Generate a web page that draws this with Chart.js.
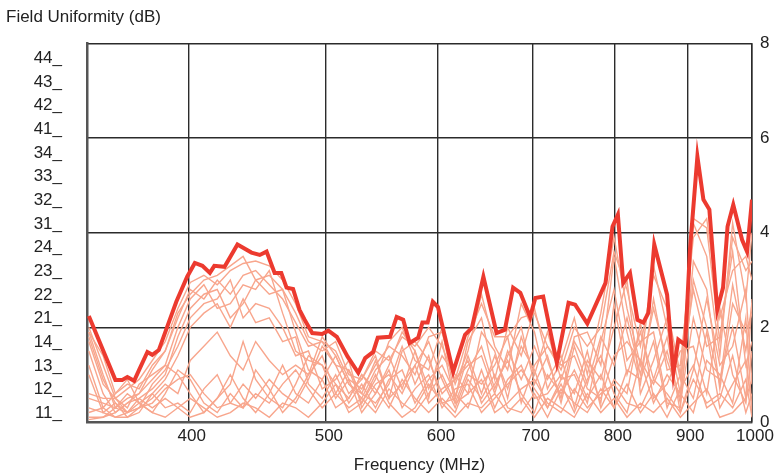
<!DOCTYPE html>
<html>
<head>
<meta charset="utf-8">
<title>Field Uniformity</title>
<script src="https://cdn.jsdelivr.net/npm/chart.js@4.4.1/dist/chart.umd.min.js"></script>
<style>
  html, body { margin: 0; padding: 0; background: #fff; }
  #chart { display: block; }
</style>
</head>
<body>
<canvas id="chart" width="781" height="476"></canvas>
<script>
// axis labels
const freqTicks = [400, 500, 600, 700, 800, 900, 1000];
const leftLabels = ['44_', '43_', '42_', '41_', '34_', '33_', '32_', '31_',
                    '24_', '23_', '22_', '21_', '14_', '13_', '12_', '11_'];

// worst case (thick red) curve
const maxFreq = [340, 355, 359, 362, 366, 369, 374, 377, 381, 386,
                 392, 399, 404, 409, 414, 417, 424, 433, 443, 449,
                 454, 460, 465, 469, 474, 479, 483, 489, 497, 502,
                 509, 518, 527, 533, 540, 544, 555, 561, 567, 573,
                 581, 585, 590, 595, 600, 615, 627, 634, 646, 660,
                 669, 678, 686, 697, 703, 712, 728, 742, 750, 765,
                 788, 797, 804, 811, 820, 830, 838, 845, 853, 871,
                 880, 887, 897, 904, 915, 924, 933, 945, 954, 961,
                 970, 984, 992, 1000];
const maxValues = [2.24, 0.89, 0.89, 0.95, 0.87, 1.10, 1.48, 1.42, 1.52, 1.99,
                   2.54, 3.07, 3.36, 3.30, 3.15, 3.30, 3.28, 3.75, 3.58, 3.53,
                   3.60, 3.15, 3.15, 2.84, 2.81, 2.37, 2.16, 1.88, 1.86, 1.93,
                   1.80, 1.38, 1.04, 1.35, 1.48, 1.78, 1.80, 2.22, 2.16, 1.67,
                   1.78, 2.10, 2.10, 2.54, 2.43, 1.06, 1.84, 1.99, 3.07, 1.88,
                   1.95, 2.84, 2.73, 2.22, 2.62, 2.65, 1.25, 2.52, 2.48, 2.08,
                   2.94, 4.13, 4.38, 2.94, 3.15, 2.16, 2.10, 2.31, 3.75, 2.69,
                   1.04, 1.74, 1.63, 3.64, 5.61, 4.70, 4.49, 2.37, 2.84, 4.13,
                   4.59, 3.85, 3.60, 4.70];

// single sweeps, all on one frequency grid
const sweepFreq = [340, 348, 355, 362, 369, 377, 385, 393, 401, 410,
                   419, 428, 437, 446, 456, 466, 476, 486, 497, 508,
                   519, 530, 542, 554, 566, 578, 591, 604, 617, 630,
                   644, 658, 672, 687, 702, 717, 733, 749, 765, 782,
                   799, 816, 834, 852, 871, 890, 909, 929, 949, 969,
                   990, 1000];
const sweep1 = [2.0, 1.2, 0.5, 0.7, 0.9, 1.3, 1.7, 2.4, 2.95, 3.1, 2.9, 3.2, 3.35, 3.4, 3.3, 3.0, 2.5, 1.8, 1.7, 1.5,
                0.9, 0.7, 1.2, 1.6, 1.4, 1.0, 1.8, 1.9, 0.8, 1.5, 2.7, 1.6, 1.1, 2.5, 1.9, 0.7, 1.3, 2.2, 1.0, 2.3,
                3.9, 2.4, 1.2, 3.3, 2.0, 0.6, 4.2, 3.5, 1.4, 4.2, 2.6, 4.0];
const sweep2 = [1.9, 1.0, 0.3, 0.5, 0.6, 1.1, 1.5, 2.2, 2.8, 2.6, 3.0, 2.7, 3.1, 3.2, 2.9, 2.6, 2.1, 1.6, 1.7, 1.2,
                1.1, 0.4, 0.9, 1.7, 2.0, 1.3, 1.1, 2.0, 0.5, 1.7, 2.2, 0.9, 2.0, 1.4, 2.4, 1.3, 0.5, 1.8, 1.9, 1.2,
                3.5, 1.9, 0.8, 2.6, 1.1, 1.2, 3.9, 4.3, 2.2, 3.2, 3.5, 3.0];
const sweep3 = [1.7, 0.8, 0.5, 0.3, 0.8, 1.0, 1.2, 2.0, 2.6, 2.9, 2.4, 2.5, 2.9, 2.8, 3.2, 2.3, 1.5, 1.3, 1.2, 0.8,
                0.5, 1.0, 0.6, 1.2, 1.9, 1.5, 0.7, 1.4, 1.0, 0.6, 1.9, 1.5, 0.5, 1.8, 1.0, 1.9, 0.9, 1.0, 0.4, 1.7,
                2.8, 1.3, 1.7, 1.9, 0.4, 0.3, 3.4, 2.8, 0.7, 2.5, 1.9, 2.3];
const sweep4 = [1.5, 0.6, 0.2, 0.4, 0.5, 0.7, 1.0, 1.8, 2.4, 2.7, 2.8, 2.2, 2.5, 3.0, 2.7, 2.8, 1.9, 1.1, 0.9, 1.4,
                0.8, 0.6, 1.3, 0.5, 1.5, 1.7, 1.3, 0.6, 0.9, 1.2, 1.4, 0.6, 1.5, 0.9, 1.6, 0.9, 1.4, 0.3, 1.3, 0.9,
                2.0, 3.0, 0.6, 1.3, 2.2, 0.9, 2.8, 1.6, 1.8, 3.6, 1.2, 1.7];
const sweep5 = [1.8, 0.9, 0.4, 0.2, 0.3, 0.8, 1.1, 1.6, 2.2, 2.5, 2.6, 3.0, 2.2, 2.5, 2.4, 2.0, 1.4, 1.5, 0.7, 0.9,
                1.3, 0.3, 0.8, 1.0, 0.6, 1.2, 1.7, 0.9, 0.3, 1.0, 0.8, 1.2, 1.8, 0.4, 1.2, 1.6, 1.2, 1.4, 0.7, 0.5,
                1.4, 1.7, 1.3, 0.8, 1.5, 0.4, 2.2, 1.1, 0.9, 2.0, 0.5, 2.6];
const sweep6 = [1.2, 0.3, 0.6, 0.9, 0.4, 0.6, 0.9, 1.4, 2.0, 2.3, 2.5, 2.0, 2.6, 2.1, 2.2, 1.7, 1.8, 0.8, 0.5, 1.0,
                0.4, 0.8, 0.3, 0.9, 1.1, 0.4, 0.9, 1.2, 0.6, 0.3, 1.1, 0.3, 0.9, 1.2, 0.5, 0.6, 1.0, 0.6, 1.5, 0.3,
                0.9, 0.6, 2.1, 0.5, 0.8, 1.5, 1.6, 0.6, 2.4, 1.0, 0.4, 1.5];
const sweep7 = [0.6, 0.5, 0.5, 0.2, 0.3, 0.4, 0.7, 0.9, 1.0, 0.6, 0.3, 0.4, 0.8, 0.5, 0.9, 0.6, 0.4, 0.9, 1.6, 1.2,
                0.6, 0.9, 1.4, 0.5, 0.8, 1.2, 0.4, 0.7, 0.9, 1.3, 0.4, 0.8, 1.3, 0.6, 0.2, 1.0, 0.6, 1.1, 0.5, 1.0,
                0.3, 1.1, 0.9, 1.7, 0.3, 1.0, 0.5, 1.9, 0.3, 0.8, 1.3, 0.3];
const sweep8 = [0.1, 0.1, 0.2, 0.4, 0.6, 0.9, 1.2, 1.0, 0.6, 0.2, 0.5, 0.8, 1.7, 0.9, 0.5, 0.3, 0.8, 1.4, 1.2, 0.5,
                0.9, 0.2, 0.6, 1.1, 0.3, 0.7, 1.0, 0.3, 0.7, 0.8, 0.2, 0.5, 0.8, 1.1, 0.7, 0.3, 0.8, 0.2, 0.9, 1.4,
                0.6, 0.2, 1.3, 0.4, 1.0, 0.6, 0.2, 1.3, 1.0, 0.4, 2.2, 0.2];
const sweep9 = [0.3, 0.2, 0.1, 0.1, 0.2, 0.6, 0.3, 0.4, 0.2, 0.7, 1.0, 0.4, 0.3, 0.6, 0.4, 0.8, 1.1, 0.7, 0.3, 0.6,
                0.3, 0.5, 0.2, 0.7, 0.4, 0.2, 0.6, 1.0, 0.4, 0.6, 0.9, 0.2, 0.4, 0.7, 0.9, 0.4, 0.2, 0.7, 0.3, 0.6,
                0.8, 0.4, 0.3, 0.9, 0.6, 0.2, 0.9, 0.4, 0.6, 0.3, 0.9, 0.1];
const sweep10 = [0.5, 0.4, 0.3, 0.2, 0.5, 0.3, 0.5, 0.3, 0.1, 0.2, 0.5, 1.0, 0.5, 0.2, 0.6, 1.2, 0.6, 0.4, 0.9, 0.3,
                 0.5, 1.0, 0.7, 0.3, 0.9, 0.5, 0.2, 0.5, 0.2, 0.9, 0.5, 1.0, 0.3, 0.2, 0.6, 0.1, 0.7, 0.4, 0.2, 0.7,
                 0.3, 0.8, 0.2, 0.6, 0.1, 0.7, 1.2, 0.3, 0.5, 1.4, 0.2, 0.6];
const sweep11 = [0.05, 0.1, 0.3, 0.6, 0.4, 0.2, 0.1, 0.3, 0.5, 0.3, 0.1, 0.2, 0.4, 0.3, 0.1, 0.4, 0.3, 0.1, 0.4, 0.8,
                 0.2, 0.4, 1.0, 0.4, 0.1, 0.3, 0.8, 0.4, 0.1, 0.4, 0.3, 0.6, 0.2, 0.5, 0.1, 0.5, 0.3, 0.1, 0.6, 0.2,
                 0.5, 0.1, 0.4, 0.2, 0.5, 0.1, 0.4, 0.7, 0.1, 0.2, 0.5, 0.9];
const sweep12 = [1.9, 1.4, 0.6, 0.8, 0.7, 1.2, 1.5, 2.3, 2.7, 3.0, 3.1, 3.3, 3.5, 3.0, 3.1, 2.8, 2.3, 1.7, 1.5, 1.7,
                 1.0, 0.9, 1.5, 1.3, 1.8, 1.6, 2.0, 1.6, 0.9, 1.8, 2.5, 1.8, 1.8, 2.2, 2.3, 1.6, 1.1, 2.0, 1.6, 2.0,
                 3.6, 2.8, 1.6, 3.1, 2.4, 1.0, 4.3, 4.1, 1.7, 3.9, 3.2, 3.4];
const sweep13 = [0.2, 0.3, 0.1, 0.2, 0.4, 0.2, 0.6, 1.1, 0.9, 0.4, 0.2, 0.6, 0.3, 1.1, 0.7, 0.2, 0.5, 1.0, 1.8, 1.4,
                 0.8, 0.5, 1.1, 1.4, 0.7, 1.5, 0.5, 1.7, 0.4, 1.1, 1.6, 0.7, 1.4, 2.0, 0.8, 1.4, 0.4, 1.6, 0.8, 1.8,
                 1.2, 2.2, 1.0, 2.4, 1.3, 0.5, 3.0, 2.0, 0.8, 2.9, 1.5, 2.5];
const sweep14 = [1.0, 0.2, 0.4, 0.1, 0.3, 0.5, 0.8, 0.6, 1.3, 1.6, 1.9, 1.4, 1.1, 1.7, 1.3, 1.0, 1.2, 1.0, 1.4, 0.6,
                 1.1, 0.6, 0.4, 0.8, 1.6, 0.8, 1.4, 0.4, 0.5, 1.4, 0.6, 1.4, 0.7, 1.6, 1.1, 0.3, 0.9, 1.7, 1.2, 0.4,
                 2.5, 1.0, 1.9, 0.9, 1.8, 0.2, 1.1, 2.6, 1.2, 1.6, 2.8, 0.8];

const sweeps = [sweep1, sweep2, sweep3, sweep4, sweep5, sweep6, sweep7,
                sweep8, sweep9, sweep10, sweep11, sweep12, sweep13, sweep14];

const toPoints = (xs, ys) => xs.map((x, i) => ({ x: x, y: ys[i] }));

const FONT = 'Liberation Sans, Arial, Helvetica, sans-serif';
const INK = '#222';
const LINE = '#2b2b2b';

// thick curve first so it is painted on top of the sweeps
let datasets = [{
    data: toPoints(maxFreq, maxValues),
    yAxisID: 'y',
    borderColor: '#ec3a2f',
    borderWidth: 4,
    pointRadius: 0,
    tension: 0
}];
sweeps.forEach((s) => {
    datasets.push({
        data: toPoints(sweepFreq, s),
        yAxisID: 'y',
        borderColor: '#f8a68d',
        borderWidth: 1.4,
        pointRadius: 0,
        tension: 0
    });
});

new Chart(document.getElementById('chart'), {
    type: 'line',
    data: { datasets: datasets },
    options: {
        responsive: false,
        animation: false,
        devicePixelRatio: 1,
        layout: { padding: { left: 6, right: 0, top: 0, bottom: 0 } },
        plugins: {
            legend: { display: false },
            tooltip: { enabled: false },
            title: {
                display: true,
                text: 'Field Uniformity (dB)',
                align: 'start',
                color: INK,
                font: { family: FONT, size: 17, weight: 'normal' },
                padding: { top: 7, bottom: 16 }
            }
        },
        scales: {
            x: {
                type: 'logarithmic',
                min: 339,
                max: 1000,
                afterBuildTicks: (scale) => {
                    scale.ticks = freqTicks.map((v) => ({ value: v }));
                },
                afterFit: (scale) => { scale.height = 54; },
                ticks: {
                    color: INK,
                    font: { family: FONT, size: 17 },
                    padding: 4,
                    labelOffset: 3,
                    maxRotation: 0,
                    autoSkip: false,
                    callback: (v) => String(v)
                },
                grid: { color: LINE, lineWidth: 1.4, drawTicks: false },
                border: { display: true, color: '#555', width: 2.5 },
                title: {
                    display: true,
                    text: 'Frequency (MHz)',
                    color: INK,
                    font: { family: FONT, size: 17 },
                    padding: { top: 0, bottom: 0 }
                }
            },
            yL: {
                type: 'category',
                position: 'left',
                labels: leftLabels,
                offset: true,
                afterFit: (scale) => { scale.width = 81; },
                ticks: {
                    color: INK,
                    font: { family: FONT, size: 17 },
                    padding: 25,
                    labelOffset: 3,
                    autoSkip: false
                },
                grid: { display: false, drawTicks: false },
                border: { display: true, color: '#555', width: 2.5 }
            },
            y: {
                type: 'linear',
                position: 'right',
                min: 0,
                max: 8,
                afterFit: (scale) => { scale.width = 29; },
                ticks: {
                    stepSize: 2,
                    color: INK,
                    font: { family: FONT, size: 17 },
                    padding: 8
                },
                grid: { color: LINE, lineWidth: 1.4, drawTicks: false },
                border: { display: true, color: LINE, width: 1.5 }
            }
        }
    }
});
</script>
</body>
</html>
